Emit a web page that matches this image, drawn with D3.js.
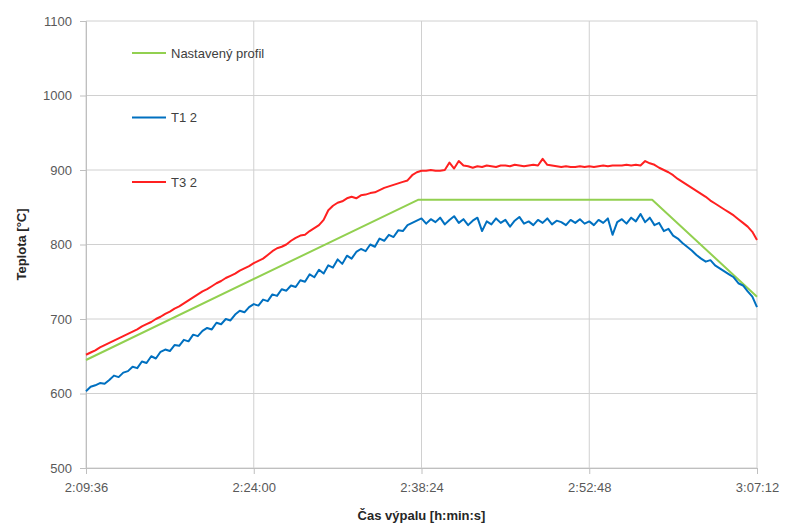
<!DOCTYPE html>
<html>
<head>
<meta charset="utf-8">
<script src="https://cdn.jsdelivr.net/npm/d3@7"></script>
<style>
  body { margin: 0; background: #fff; }
  svg { display: block; font-family: "Liberation Sans", Arial, sans-serif; }
</style>
</head>
<body>
<div id="chart"></div>
<script>
const xTickLabels = ["2:09:36", "2:24:00", "2:38:24", "2:52:48", "3:07:12"]
const yTicks = [500, 600, 700, 800, 900, 1000, 1100]

// measurements are sampled every 24 s from the start time
const sampleStart = "2:09:36"
const sampleStepSec = 24

const profileTimes = ["2:09:36", "2:38:06", "2:58:12", "3:07:12"]
const profileValues = [645, 860, 860, 730]

const t1Values = [
  603, 609, 611, 614, 613, 618, 624, 622, 628, 630,
  636, 634, 643, 641, 650, 647, 656, 659, 657, 665,
  664, 672, 670, 679, 677, 684, 688, 686, 695, 693,
  700, 698, 706, 711, 709, 716, 720, 718, 726, 724,
  733, 731, 740, 738, 745, 743, 752, 750, 760, 756,
  766, 761, 772, 769, 780, 774, 785, 781, 790, 794,
  791, 800, 797, 808, 805, 813, 810, 819, 818, 826,
  829, 832, 835, 828, 834, 830, 836, 827, 833, 838,
  829, 834, 826, 832, 836, 818, 831, 827, 835, 829,
  833, 824, 832, 837, 828, 831, 826, 833, 829, 835,
  827, 832, 830, 826, 833, 829, 834, 828, 831, 826,
  833, 829, 835, 813, 830, 834, 828, 836, 831, 841,
  830, 836, 826, 829, 818, 821, 812, 808, 802, 797,
  792, 786, 781, 777, 779, 772, 768, 764, 760, 756,
  748, 745, 737, 730, 716
]

const t3Values = [
  652, 655, 658, 662, 665, 668, 671, 674, 677, 680,
  683, 686, 690, 693, 696, 700, 703, 707, 710, 714,
  717, 721, 725, 729, 733, 737, 740, 744, 748, 751,
  755, 758, 761, 765, 768, 771, 775, 778, 781, 786,
  791, 795, 797, 800, 805, 809, 812, 813, 818, 822,
  826, 833, 846, 852, 856, 858, 862, 864, 862, 866,
  867, 869, 870, 873, 876, 878, 880, 882, 884, 886,
  893, 897, 899, 899, 900, 899, 899, 900, 910, 902,
  912, 906, 905, 903, 905, 904, 906, 905, 904, 906,
  906, 905, 907, 906, 905, 906, 907, 906, 915, 907,
  906, 905, 904, 905, 904, 904, 905, 904, 905, 904,
  905, 906, 905, 906, 906, 906, 907, 906, 907, 906,
  912, 909, 907, 903, 900, 897, 893, 888, 884, 880,
  876, 872, 868, 864, 859, 855, 851, 847, 843, 839,
  834, 829, 824, 817, 806
]

const seriesNames = ["Nastavený profil", "T1 2", "T3 2"]
const seriesColors = ["#92d050", "#0070c0", "#ff2020"]

function toSec(s) {
  const p = s.split(":").map(Number)
  return p[0] * 3600 + p[1] * 60 + p[2]
}
function fmt(sec) {
  const h = Math.floor(sec / 3600)
  const m = Math.floor((sec % 3600) / 60)
  const s = sec % 60
  return h + ":" + String(m).padStart(2, "0") + ":" + String(s).padStart(2, "0")
}

const width = 787, height = 525
const margin = { top: 21, right: 30, bottom: 57, left: 86 }

const startSec = toSec(sampleStart)
const sampled = vals => vals.map((v, i) => ({ t: startSec + i * sampleStepSec, v: v }))

const series = [
  profileTimes.map((t, i) => ({ t: toSec(t), v: profileValues[i] })),
  sampled(t1Values),
  sampled(t3Values)
]

const x = d3.scaleLinear()
  .domain([toSec(xTickLabels[0]), toSec(xTickLabels[xTickLabels.length - 1])])
  .range([margin.left, width - margin.right])
const y = d3.scaleLinear()
  .domain([yTicks[0], yTicks[yTicks.length - 1]])
  .range([height - margin.bottom, margin.top])

const svg = d3.select("#chart").append("svg")
  .attr("width", width)
  .attr("height", height)

// grid
svg.append("g").selectAll("line")
  .data(yTicks)
  .join("line")
  .attr("x1", margin.left).attr("x2", width - margin.right)
  .attr("y1", d => y(d)).attr("y2", d => y(d))
  .attr("stroke", "#d0d0d0")
svg.append("g").selectAll("line")
  .data(xTickLabels)
  .join("line")
  .attr("x1", d => x(toSec(d))).attr("x2", d => x(toSec(d)))
  .attr("y1", margin.top).attr("y2", height - margin.bottom)
  .attr("stroke", "#d0d0d0")

const yAxis = svg.append("g")
  .attr("transform", "translate(" + margin.left + ",0)")
  .call(d3.axisLeft(y).tickValues(yTicks).tickFormat(d3.format("d")).tickSize(6).tickPadding(8))
const xAxis = svg.append("g")
  .attr("transform", "translate(0," + (height - margin.bottom) + ")")
  .call(d3.axisBottom(x).tickValues(xTickLabels.map(toSec)).tickFormat(fmt).tickSize(6).tickPadding(9))

;[yAxis, xAxis].forEach(a => {
  a.select(".domain").attr("stroke", "#bfbfbf")
  a.selectAll(".tick line").attr("stroke", "#bfbfbf")
  a.selectAll(".tick text")
    .attr("fill", "#595959")
    .style("font-size", "13px")
})

// lines
const line = d3.line().x(d => x(d.t)).y(d => y(d.v))
svg.append("g").selectAll("path")
  .data(series)
  .join("path")
  .attr("d", line)
  .attr("fill", "none")
  .attr("stroke", (d, i) => seriesColors[i])
  .attr("stroke-width", 2)
  .attr("stroke-linejoin", "round")

// legend
const legend = svg.append("g")
  .selectAll("g")
  .data(seriesNames)
  .join("g")
  .attr("transform", (d, i) => "translate(132," + (53 + i * 64.5) + ")")
legend.append("line")
  .attr("x1", 0).attr("x2", 34)
  .attr("stroke", (d, i) => seriesColors[i])
  .attr("stroke-width", 2)
legend.append("text")
  .attr("x", 39)
  .attr("dy", "0.35em")
  .attr("fill", "#404040")
  .style("font-size", "13px")
  .text(d => d)

// titles
svg.append("text")
  .attr("x", (margin.left + width - margin.right) / 2)
  .attr("y", 520)
  .attr("text-anchor", "middle")
  .style("font-size", "13px")
  .style("font-weight", "bold")
  .attr("fill", "#262626")
  .text("Čas výpalu [h:min:s]")
svg.append("text")
  .attr("transform", "translate(26," + (margin.top + height - margin.bottom) / 2 + ") rotate(-90)")
  .attr("text-anchor", "middle")
  .style("font-size", "13px")
  .style("font-weight", "bold")
  .attr("fill", "#262626")
  .text("Teplota [°C]")
</script>
</body>
</html>
